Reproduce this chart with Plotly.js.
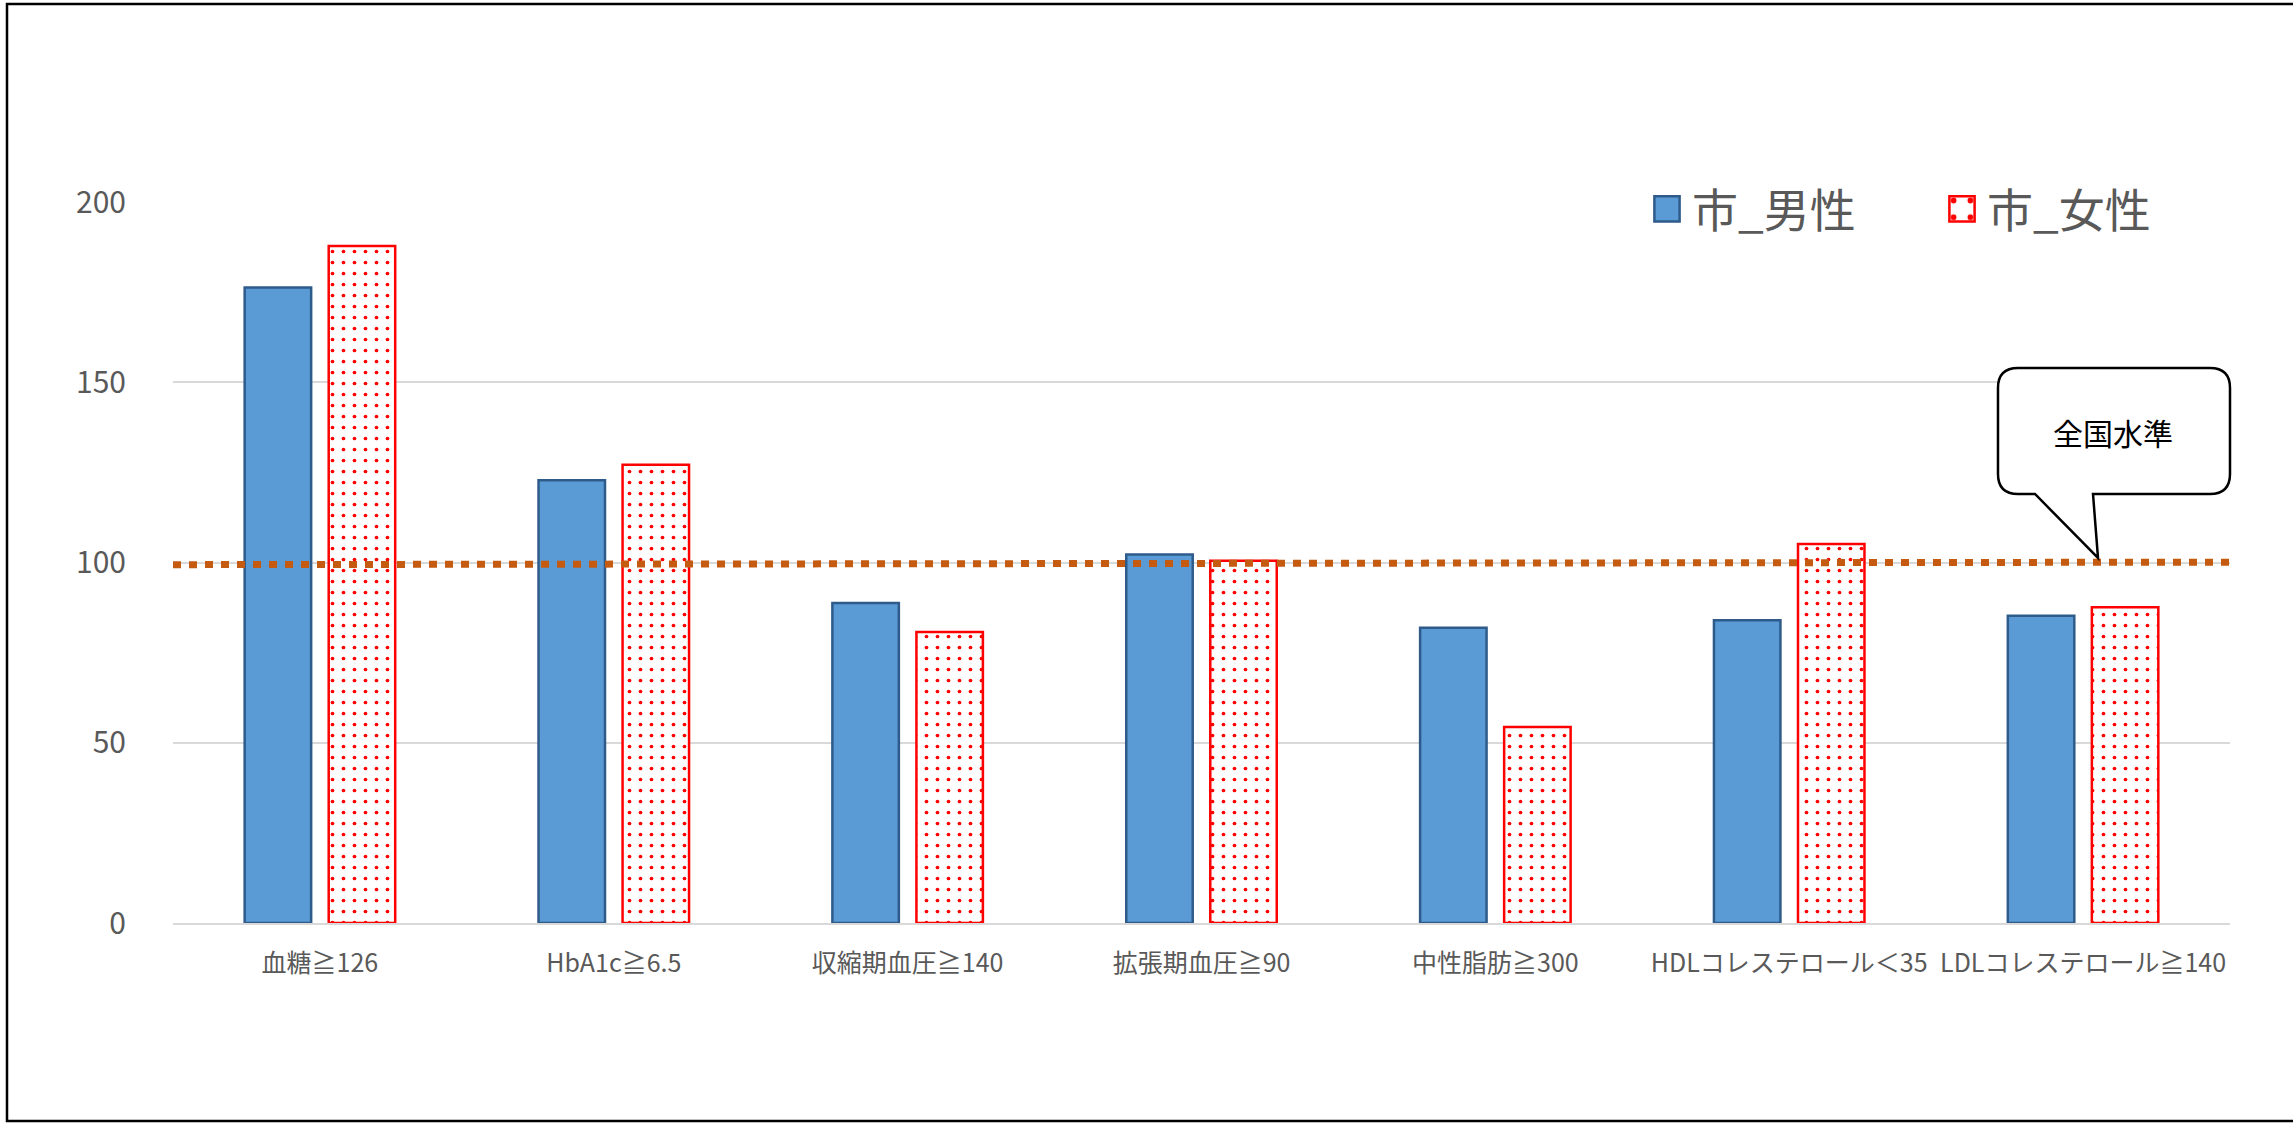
<!DOCTYPE html>
<html>
<head>
<meta charset="utf-8">
<script src="https://cdn.plot.ly/plotly-3.0.1.min.js"></script>
<style>
html,body{margin:0;padding:0;background:#fff;}
#chart{width:2293px;height:1124px;}
</style>
</head>
<body>
<div id="chart"></div>
<script>
const categories = ["血糖≧126","HbA1c≧6.5","収縮期血圧≧140","拡張期血圧≧90","中性脂肪≧300","HDLコレステロール＜35","LDLコレステロール≧140"];
const maleValues = [176.3, 122.8, 88.8, 102.2, 81.9, 84.0, 85.2];
const femaleValues = [187.8, 127.1, 80.7, 100.5, 54.4, 105.1, 87.6];
const seriesNames = ["市_男性","市_女性"];
const nationalLevel = [99.4, 100.1];
const nationalLabel = "全国水準";
const yTicks = [0, 50, 100, 150, 200];

const W = 2293, H = 1124;
const L = 173, R = 63, T = 202, B = 201;
const PW = W - L - R, PH = H - T - B;
const px = x => (x - L) / PW;
const py = y => (H - B - y) / PH;

const font = "'Noto Sans CJK JP', 'Noto Sans', sans-serif";

const traces = [
  {
    type: "bar", name: seriesNames[0], x: categories, y: maleValues,
    marker: {color: "#5B9BD5", line: {color: "#2E5B8A", width: 2.5}},
    hoverinfo: "skip"
  },
  {
    type: "bar", name: seriesNames[1], x: categories, y: femaleValues,
    marker: {
      color: "#FFFFFF",
      line: {color: "#FF0000", width: 2.5},
      pattern: {shape: ".", fgcolor: "#FF0000", bgcolor: "#FFFFFF", size: 11, solidity: 0.09, fillmode: "replace"}
    },
    hoverinfo: "skip"
  },
  {
    type: "scatter", mode: "lines", x: [0, 1], y: nationalLevel, xaxis: "x2",
    line: {color: "#C55A11", width: 7, dash: "8px,8px"},
    showlegend: false, hoverinfo: "skip"
  }
];

// callout (rounded rectangle with tail), pixel coords converted to paper
const bx0 = 1998, bx1 = 2230, by0 = 368, by1 = 494, rr = 20;
const tail = [[2035, 494], [2098, 558], [2093, 494]];
function P(x, y){ return px(x).toFixed(5) + "," + py(y).toFixed(5); }
const calloutPath =
  "M" + P(bx0 + rr, by0) +
  " L" + P(bx1 - rr, by0) +
  " Q" + P(bx1, by0) + " " + P(bx1, by0 + rr) +
  " L" + P(bx1, by1 - rr) +
  " Q" + P(bx1, by1) + " " + P(bx1 - rr, by1) +
  " L" + P(tail[2][0], tail[2][1]) +
  " L" + P(tail[1][0], tail[1][1]) +
  " L" + P(tail[0][0], tail[0][1]) +
  " L" + P(bx0 + rr, by1) +
  " Q" + P(bx0, by1) + " " + P(bx0, by1 - rr) +
  " L" + P(bx0, by0 + rr) +
  " Q" + P(bx0, by0) + " " + P(bx0 + rr, by0) + " Z";

const layout = {
  width: W, height: H,
  margin: {l: L, r: R, t: T, b: B, pad: 0, autoexpand: false},
  paper_bgcolor: "#FFFFFF", plot_bgcolor: "#FFFFFF",
  font: {family: font, color: "#595959"},
  barmode: "group", bargap: 0.428, bargroupgap: 0.209,
  showlegend: true,
  legend: {
    orientation: "h", x: px(1642), xanchor: "left", y: py(209), yanchor: "middle",
    font: {size: 46, color: "#595959", family: font},
    bgcolor: "rgba(0,0,0,0)", itemwidth: 40, traceorder: "normal",
    entrywidth: 240
  },
  xaxis: {
    type: "category", showgrid: false, zeroline: false,
    showline: true, linecolor: "#D9D9D9", linewidth: 2,
    ticks: "", tickangle: 0, automargin: false,
    tickfont: {size: 25, color: "#595959", family: font},
    ticklabelstandoff: 17, fixedrange: true
  },
  xaxis2: {overlaying: "x", range: [0, 1], visible: false, fixedrange: true},
  yaxis: {
    range: [0, 200], tickvals: yTicks, ticktext: yTicks.map(String),
    showgrid: true, gridcolor: "#D9D9D9", gridwidth: 2,
    zeroline: false, showline: false, ticks: "", automargin: false,
    tickfont: {size: 30, color: "#595959", family: font},
    ticklabelstandoff: 46, fixedrange: true
  },
  shapes: [
    {type: "rect", xref: "paper", yref: "paper", x0: px(7), x1: px(2300), y0: py(4), y1: py(1121),
     line: {color: "#000000", width: 2.5}, fillcolor: "rgba(0,0,0,0)", layer: "above"},
    {type: "path", xref: "paper", yref: "paper", path: calloutPath,
     line: {color: "#000000", width: 2.5}, fillcolor: "#FFFFFF", layer: "above"}
  ],
  annotations: [
    {xref: "paper", yref: "paper", x: px(2113), y: py(432), text: nationalLabel, showarrow: false,
     font: {size: 30, color: "#000000", family: font}, xanchor: "center", yanchor: "middle"}
  ]
};

Plotly.newPlot("chart", traces, layout, {staticPlot: true, displayModeBar: false}).then(gd => {
  // enlarge legend swatches to match the reference's square markers
  gd.querySelectorAll(".legend .legendpoints path").forEach(p => {
    const t = p.getAttribute("transform") || "";
    p.setAttribute("transform", t + " scale(2.1)");
    p.style.strokeWidth = "1.2px";
  });
});
</script>
</body>
</html>
